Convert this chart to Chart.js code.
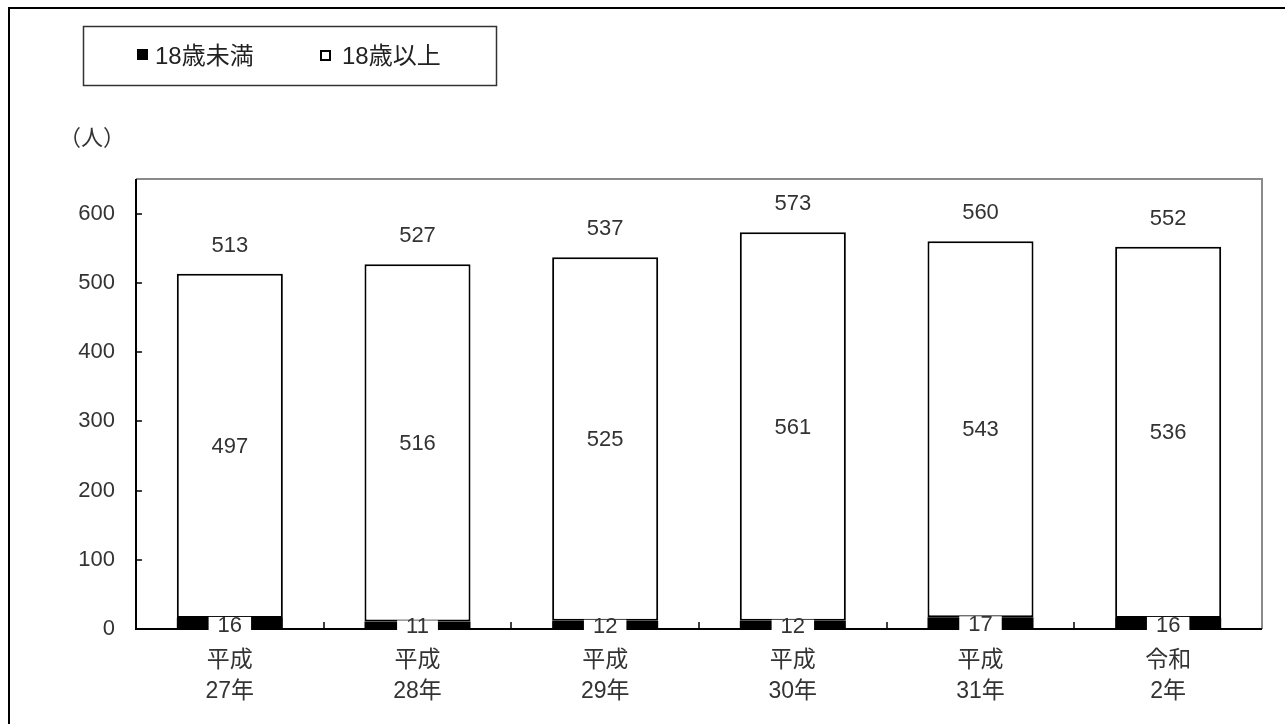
<!DOCTYPE html>
<html>
<head>
<meta charset="utf-8">
<script src="https://cdn.jsdelivr.net/npm/chart.js@4"></script>
<style>
  html, body { margin: 0; padding: 0; background: #fff; }
  #wrap { width: 1285px; height: 724px; position: relative; }
</style>
</head>
<body>
<div id="wrap"><canvas id="c" width="1285" height="724"></canvas></div>
<script>
// data
const categories = [["平成", "27年"], ["平成", "28年"], ["平成", "29年"], ["平成", "30年"], ["平成", "31年"], ["令和", "2年"]];
const under18 = [16, 11, 12, 12, 17, 16];
const over18 = [497, 516, 525, 561, 543, 536];
const yTicks = [0, 100, 200, 300, 400, 500, 600];
const seriesNames = ["18歳未満", "18歳以上"];
const unitLabel = "（人）";

const FONT = '"Liberation Sans", "Noto Sans CJK JP", sans-serif';
const TXT = "#333";

// outer frame, legend box, unit label, plot border + inward ticks, data labels
const decorPlugin = {
  id: "decorPlugin",
  beforeDraw(chart) {
    const { ctx } = chart;
    ctx.save();
    ctx.fillStyle = "#fff";
    ctx.fillRect(0, 0, chart.width, chart.height);
    ctx.strokeStyle = "#000";
    ctx.lineWidth = 2;
    ctx.strokeRect(9, 8, 1400, 800);
    // legend box
    ctx.lineWidth = 1.5;
    ctx.strokeStyle = "#333";
    ctx.strokeRect(83.5, 26.5, 413, 59);
    ctx.font = "24px " + FONT;
    ctx.textBaseline = "middle";
    ctx.textAlign = "left";
    ctx.fillStyle = "#000";
    ctx.fillRect(137, 49, 11, 11);
    ctx.fillStyle = "#222";
    ctx.fillText(seriesNames[0], 155, 57);
    ctx.strokeStyle = "#000";
    ctx.lineWidth = 2;
    ctx.strokeRect(321, 51, 9, 9);
    ctx.fillText(seriesNames[1], 342, 57);
    // unit
    ctx.font = "22px " + FONT;
    ctx.textAlign = "center";
    ctx.fillStyle = TXT;
    ctx.fillText(unitLabel, 92, 139);
    ctx.restore();
  },
  afterDatasetsDraw(chart) {
    const { ctx, chartArea: a, scales } = chart;
    ctx.save();
    // plot border: gray top/right, black left/bottom
    ctx.lineWidth = 2;
    ctx.strokeStyle = "#8a8a8a";
    ctx.beginPath();
    ctx.moveTo(a.left, a.top);
    ctx.lineTo(a.right, a.top);
    ctx.lineTo(a.right, a.bottom);
    ctx.stroke();
    ctx.strokeStyle = "#000";
    ctx.beginPath();
    ctx.moveTo(a.left, a.top);
    ctx.lineTo(a.left, a.bottom);
    ctx.lineTo(a.right, a.bottom);
    ctx.stroke();
    // inward ticks
    ctx.lineWidth = 1.5;
    yTicks.forEach(v => {
      const y = Math.round(scales.y.getPixelForValue(v));
      ctx.beginPath();
      ctx.moveTo(a.left, y);
      ctx.lineTo(a.left + 6, y);
      ctx.stroke();
    });
    const step = (a.right - a.left) / categories.length;
    for (let i = 1; i < categories.length; i++) {
      const x = Math.round(a.left + step * i);
      ctx.beginPath();
      ctx.moveTo(x, a.bottom);
      ctx.lineTo(x, a.bottom - 7);
      ctx.stroke();
    }
    // data labels
    ctx.font = "22px " + FONT;
    ctx.textAlign = "center";
    ctx.textBaseline = "middle";
    const m0 = chart.getDatasetMeta(0);
    const m1 = chart.getDatasetMeta(1);
    m1.data.forEach((bar, i) => {
      const mid = (bar.y + bar.base) / 2;
      ctx.fillStyle = TXT;
      ctx.fillText(String(over18[i]), bar.x, mid + 1);
      const total = under18[i] + over18[i];
      ctx.fillText(String(total), bar.x, scales.y.getPixelForValue(total) - 28);
      const b0 = m0.data[i];
      const lw = ctx.measureText(String(under18[i])).width;
      ctx.fillStyle = "#fff";
      ctx.fillRect(bar.x - lw / 2 - 9, b0.y - 1, lw + 18, b0.base - b0.y + 4);
      ctx.fillStyle = TXT;
      ctx.fillText(String(under18[i]), bar.x, (b0.y + b0.base) / 2 + 2);
    });
    ctx.restore();
  }
};

new Chart(document.getElementById("c"), {
  type: "bar",
  data: {
    labels: categories,
    datasets: [
      { label: seriesNames[0], data: under18, backgroundColor: "#000", borderColor: "#000", borderWidth: 0, categoryPercentage: 0.565, barPercentage: 1 },
      { label: seriesNames[1], data: over18, backgroundColor: "#fff", borderColor: "#000", borderWidth: 2, borderSkipped: false, categoryPercentage: 0.565, barPercentage: 1 }
    ]
  },
  options: {
    responsive: false,
    animation: false,
    layout: { padding: { left: 0, right: 23, top: 179, bottom: 0 } },
    plugins: { legend: { display: false }, tooltip: { enabled: false } },
    scales: {
      x: {
        stacked: true,
        grid: { display: false, drawTicks: false },
        border: { display: false },
        ticks: { color: TXT, font: { family: FONT, size: 23, lineHeight: 1.35 }, padding: 16, maxRotation: 0 },
        afterFit(s) { s.height = 95; }
      },
      y: {
        stacked: true,
        min: 0,
        max: 650,
        grid: { display: false, drawTicks: false },
        border: { display: false },
        afterBuildTicks(s) { s.ticks = yTicks.map(v => ({ value: v })); },
        ticks: { color: TXT, font: { family: FONT, size: 22 }, padding: 21 },
        afterFit(s) { s.width = 136; }
      }
    }
  },
  plugins: [decorPlugin]
});
</script>
</body>
</html>
